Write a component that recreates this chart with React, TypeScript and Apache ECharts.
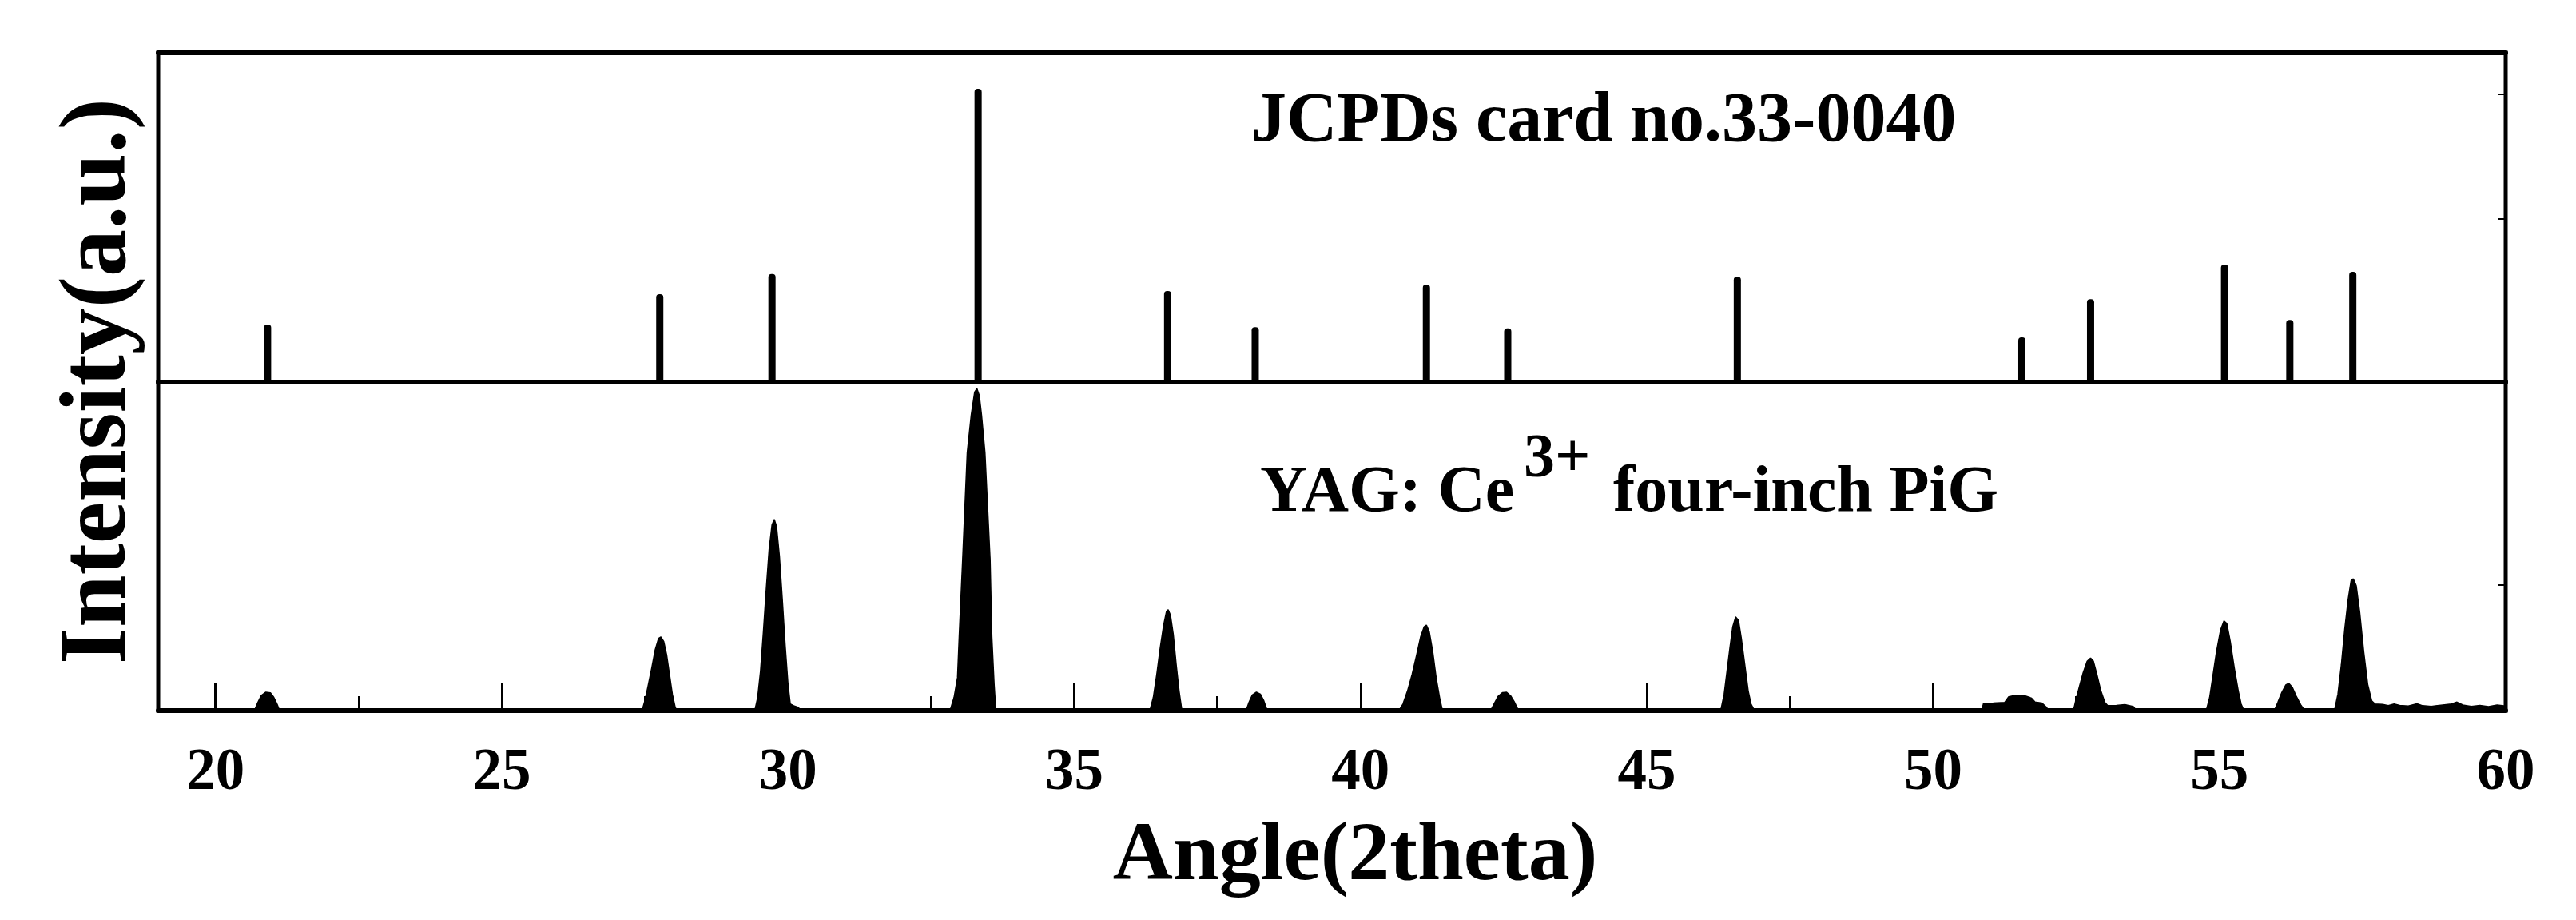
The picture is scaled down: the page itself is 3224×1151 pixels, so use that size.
import React, { useEffect, useRef } from "react";
import * as echarts from "echarts";

// ---- data ----
const jcpdsAngles = [20.91, 27.76, 29.72, 33.32, 36.63, 38.16, 41.15, 42.57, 46.58, 51.55, 52.75, 55.09, 56.23, 57.33];
const jcpdsIntensities = [17.5, 26.7, 32.8, 89.1, 27.7, 16.7, 29.6, 16.3, 32.0, 13.6, 25.2, 35.7, 18.9, 33.5];

const pigAngles = [
  19.0, 20.68, 20.74, 20.8, 20.88, 20.96, 21.02, 21.08, 21.12,
  27.45, 27.5, 27.55, 27.62, 27.68, 27.74, 27.78, 27.83, 27.88, 27.93, 27.98, 28.03, 28.06,
  29.42, 29.47, 29.52, 29.57, 29.62, 29.67, 29.72, 29.76, 29.8, 29.85, 29.9, 29.95, 30.0, 30.04, 30.1, 30.18, 30.22,
  32.83, 32.9, 32.96, 32.99, 33.05, 33.13, 33.2, 33.26, 33.3, 33.34, 33.38, 33.44, 33.53, 33.56, 33.6, 33.63,
  36.32, 36.38, 36.44, 36.5, 36.56, 36.61, 36.64, 36.68, 36.73, 36.78, 36.83, 36.88,
  38.0, 38.05, 38.11, 38.18, 38.25, 38.31, 38.37,
  40.67, 40.74, 40.82, 40.9, 40.98, 41.05, 41.11, 41.15, 41.2, 41.26, 41.32, 41.38, 41.43,
  42.27, 42.33, 42.4, 42.48, 42.55, 42.62, 42.69, 42.76,
  46.29, 46.35, 46.4, 46.45, 46.5, 46.55, 46.6, 46.65, 46.71, 46.77, 46.82, 46.88,
  50.85, 50.88, 51.05, 51.25, 51.32, 51.45, 51.6, 51.72, 51.78, 51.9, 51.98, 52.02,
  52.45, 52.49, 52.55, 52.62, 52.69, 52.75, 52.8, 52.86, 52.93, 53.0, 53.05, 53.2, 53.35, 53.5, 53.55,
  54.77, 54.83, 54.89, 54.95, 55.02, 55.08, 55.13, 55.19, 55.26, 55.33, 55.38, 55.43,
  55.96, 56.02, 56.09, 56.16, 56.21, 56.27, 56.34, 56.42, 56.49,
  57.01, 57.07, 57.13, 57.19, 57.25, 57.3, 57.34, 57.39, 57.45, 57.52, 57.59, 57.66, 57.72,
  57.85, 57.95, 58.05, 58.15, 58.3, 58.45, 58.55, 58.7, 58.9, 59.05, 59.15, 59.25, 59.4, 59.55, 59.7, 59.85, 60.0,
];
const pigIntensities = [
  0, 0, 2.5, 4.6, 5.6, 5.4, 4.0, 1.8, 0,
  0, 3, 7, 13, 18.5, 22, 22.4, 21, 17, 11, 5, 1, 0,
  0, 4, 12, 24, 37, 49, 56.5, 58.2, 56, 47, 34, 20, 8, 2, 1.5, 1, 0,
  0, 4, 10, 22.6, 46, 78.5, 90, 97, 98, 96, 90, 78.5, 46, 22.6, 8, 0,
  0, 4, 11, 19, 26, 30.2, 30.7, 29, 23, 14, 6, 0,
  0, 2.5, 4.8, 5.6, 5.0, 3.0, 0,
  0, 2, 6, 11, 17, 22.5, 25.5, 26, 24, 18, 10, 4, 0,
  0, 2, 4.3, 5.5, 5.6, 4.5, 2.5, 0,
  0, 5, 12, 19, 25.5, 28.5, 27.5, 22, 14, 6, 2, 0,
  0, 2.2, 2.3, 2.5, 4.2, 4.7, 4.5, 3.8, 2.6, 2.3, 1.0, 0,
  0, 3, 7, 11.5, 15, 16, 15, 11, 6, 2.5, 1.5, 1.6, 1.8, 1.2, 0,
  0, 4, 11, 18, 24.5, 27.3, 26.5, 21, 13, 6, 2, 0,
  0, 2.5, 5.5, 7.8, 8.3, 7.2, 4.5, 1.8, 0,
  0, 5, 14, 25, 34, 39.5, 40.1, 38, 30, 18, 8, 3, 2,
  1.9, 1.5, 2.0, 1.6, 1.4, 2.1, 1.5, 1.3, 1.7, 2.0, 2.6, 1.7, 1.3, 1.6, 1.2, 1.7, 1.4,
];

const tickLabels = [20, 25, 30, 35, 40, 45, 50, 55, 60];
const majorTicks = [20, 25, 30, 35, 40, 45, 50, 55];
const minorTicks = [22.5, 27.5, 32.5, 37.5, 42.5, 47.5, 52.5, 57.5];
const topRightTicks = [49.5, 87.4];
const bottomRightTicks = [38.2];

const FONT = "'Liberation Serif', 'Times New Roman', serif";

export default function App() {
  const ref = useRef<HTMLDivElement>(null);

  useEffect(() => {
    if (!ref.current) return;
    const chart = echarts.init(ref.current, undefined, { renderer: "svg" });

    const gridBox = { left: 198, width: 2938 };
    const hidden = { show: false };

    chart.setOption({
      animation: false,
      backgroundColor: "#fff",
      grid: [
        { ...gridBox, top: 66, height: 412, show: true, borderColor: "#000", borderWidth: 5 },
        { ...gridBox, top: 478, height: 411, show: true, borderColor: "#000", borderWidth: 5 },
        { ...gridBox, top: 478, height: 411 },
      ],
      xAxis: [
        {
          gridIndex: 0, type: "value", min: 19, max: 60, position: "bottom",
          axisLine: { show: true, onZero: false, lineStyle: { color: "#000", width: 6 } },
          axisTick: hidden, axisLabel: hidden, splitLine: hidden,
        },
        {
          gridIndex: 0, type: "value", min: 19, max: 60, position: "top",
          axisLine: { show: true, onZero: false, lineStyle: { color: "#000", width: 6 } },
          axisTick: hidden, axisLabel: hidden, splitLine: hidden,
        },
        {
          gridIndex: 1, type: "value", min: 19, max: 60, position: "bottom",
          axisLine: { show: true, onZero: false, lineStyle: { color: "#000", width: 6 } },
          axisTick: { show: true, inside: true, length: 34, customValues: majorTicks, lineStyle: { color: "#000", width: 3 } },
          axisLabel: {
            show: true, customValues: tickLabels, margin: 46, lineHeight: 54, fontSize: 73, fontWeight: "bold",
            fontFamily: FONT, color: "#000", formatter: (v: number) => String(v),
          },
          splitLine: hidden,
        },
        {
          gridIndex: 2, type: "value", min: 19, max: 60, position: "bottom",
          axisLine: hidden, axisLabel: hidden, splitLine: hidden,
          axisTick: { show: true, inside: true, length: 18, customValues: minorTicks, lineStyle: { color: "#000", width: 3 } },
        },
      ],
      yAxis: [
        {
          gridIndex: 0, type: "value", min: 0, max: 100, position: "right",
          axisLine: hidden, axisLabel: hidden, splitLine: hidden,
          axisTick: { show: true, inside: true, length: 9, customValues: topRightTicks, lineStyle: { color: "#000", width: 2 } },
        },
        {
          gridIndex: 1, type: "value", min: 0, max: 100, position: "right",
          axisLine: hidden, axisLabel: hidden, splitLine: hidden,
          axisTick: { show: true, inside: true, length: 9, customValues: bottomRightTicks, lineStyle: { color: "#000", width: 2 } },
        },
        { gridIndex: 2, type: "value", min: 0, max: 100, show: false },
      ],
      series: [
        {
          type: "bar", xAxisIndex: 0, yAxisIndex: 0,
          data: jcpdsAngles.map((a, i) => [a, jcpdsIntensities[i]]),
          barWidth: 9,
          itemStyle: { color: "#000", borderRadius: [4, 4, 0, 0] },
        },
        {
          type: "line", xAxisIndex: 2, yAxisIndex: 1,
          data: pigAngles.map((a, i) => [a, pigIntensities[i]]),
          showSymbol: false, symbol: "none",
          lineStyle: { color: "#000", width: 1.5 },
          areaStyle: { color: "#000", opacity: 1 },
        },
      ],
      graphic: [
        {
          type: "text", x: 116, y: 477, rotation: Math.PI / 2,
          style: { text: "Intensity(a.u.)", fontSize: 118, fontWeight: "bold", fontFamily: FONT, fill: "#000", textAlign: "center", textVerticalAlign: "middle" },
        },
        {
          type: "text", x: 1696, y: 1064,
          style: { text: "Angle(2theta)", fontSize: 104, fontWeight: "bold", fontFamily: FONT, fill: "#000", textAlign: "center", textVerticalAlign: "middle" },
        },
        {
          type: "text", x: 1566, y: 146,
          style: { text: "JCPDs card no.33-0040", fontSize: 88, fontWeight: "bold", fontFamily: FONT, fill: "#000", textAlign: "left", textVerticalAlign: "middle" },
        },
        {
          type: "text", x: 1577, y: 611,
          style: { text: "YAG: Ce", fontSize: 82, fontWeight: "bold", fontFamily: FONT, fill: "#000", textAlign: "left", textVerticalAlign: "middle" },
        },
        {
          type: "text", x: 1907, y: 569,
          style: { text: "3+", fontSize: 78, fontWeight: "bold", fontFamily: FONT, fill: "#000", textAlign: "left", textVerticalAlign: "middle" },
        },
        {
          type: "text", x: 2019, y: 611,
          style: { text: "four-inch PiG", fontSize: 82, fontWeight: "bold", fontFamily: FONT, fill: "#000", textAlign: "left", textVerticalAlign: "middle" },
        },
      ],
    });

    return () => chart.dispose();
  }, []);

  return <div ref={ref} style={{ position: "fixed", left: 0, top: 0, width: 3224, height: 1151, background: "#fff" }} />;
}
